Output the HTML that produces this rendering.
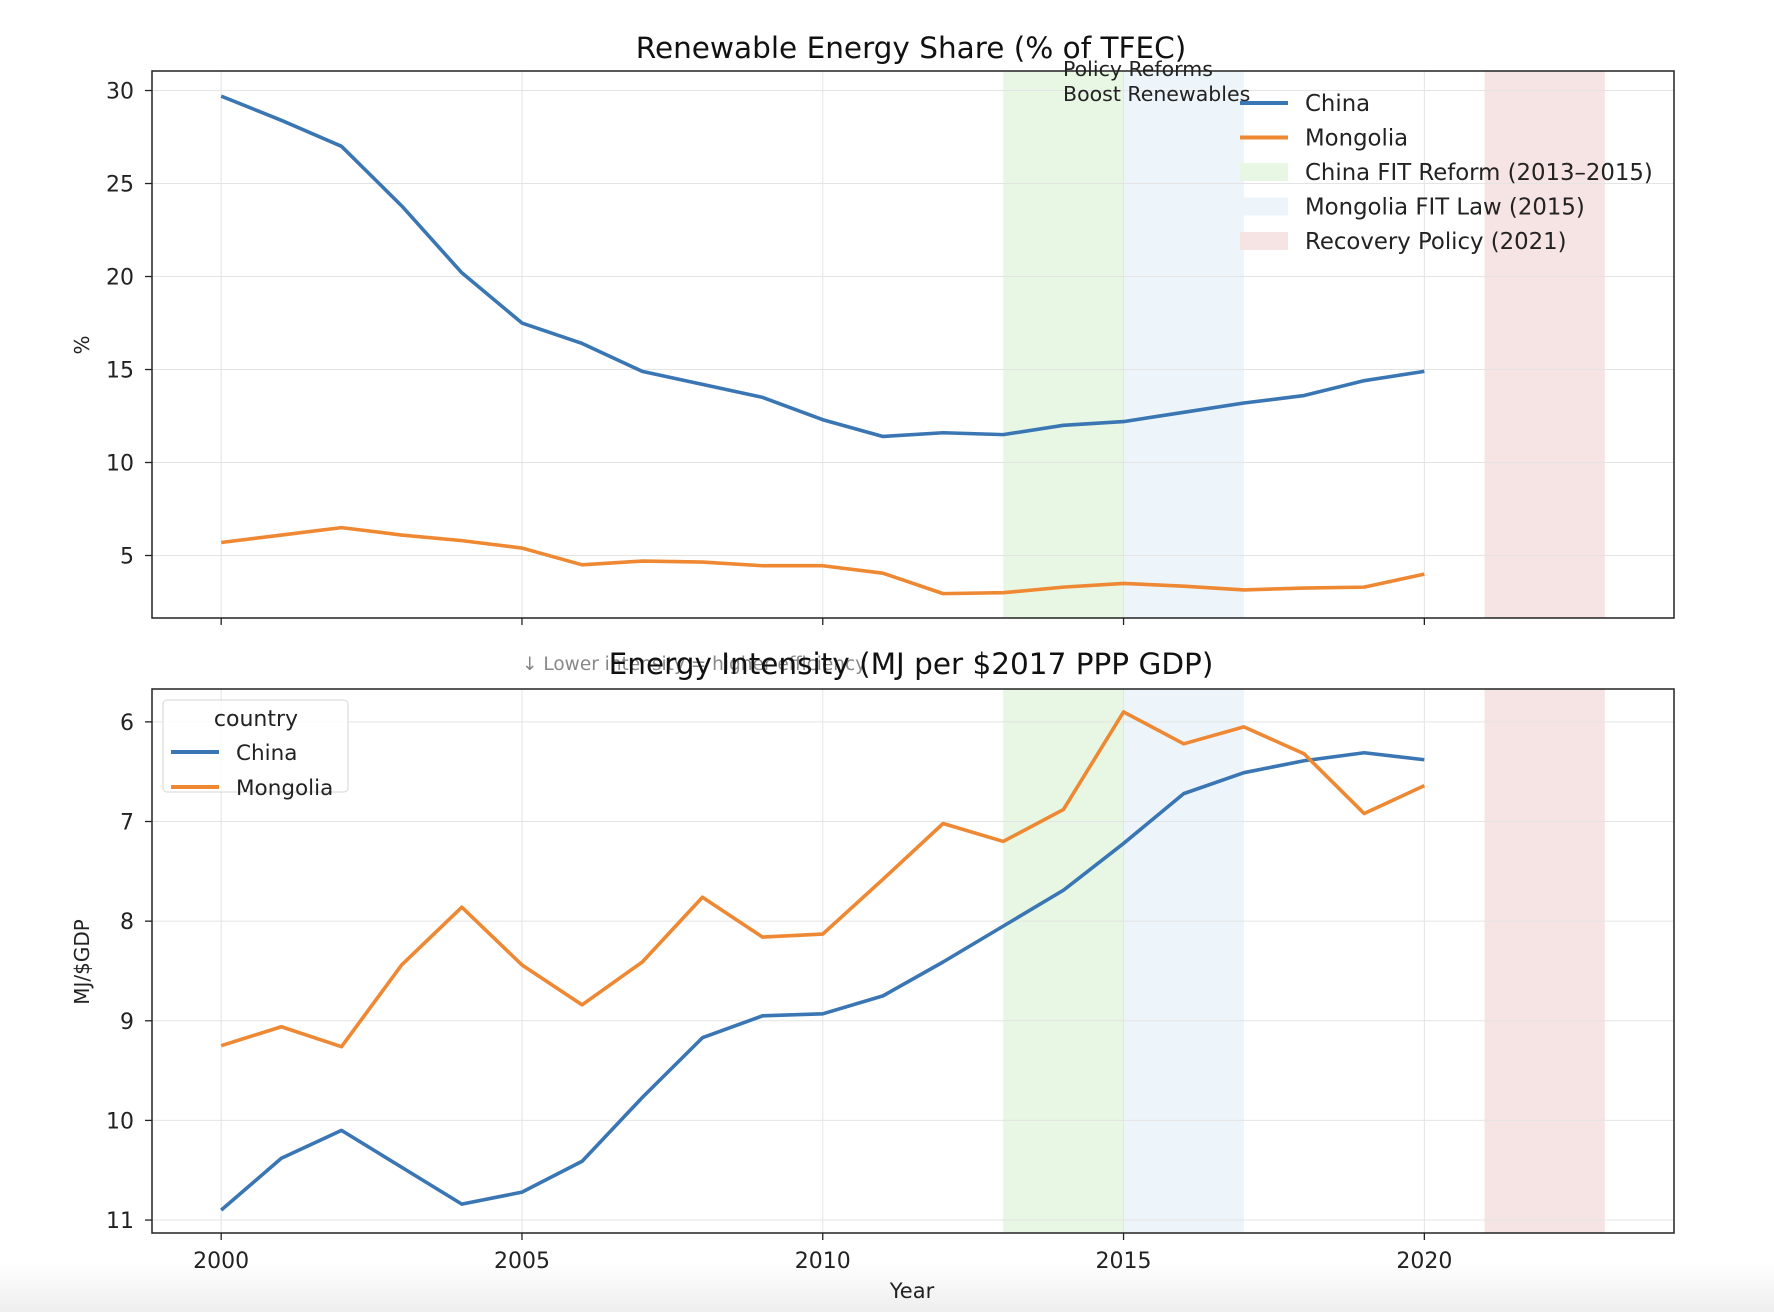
<!DOCTYPE html>
<html><head><meta charset="utf-8"><style>
html,body{margin:0;padding:0;background:#fff;}
svg{display:block;font-family:"DejaVu Sans","Liberation Sans",sans-serif;}
</style></head><body>
<svg id="chart" width="1774" height="1312" viewBox="0 0 1774 1312">
<defs><linearGradient id="bg" x1="0" y1="0" x2="0" y2="1"><stop offset="0" stop-color="#fff"/><stop offset="1" stop-color="#eeeeee"/></linearGradient></defs>
<rect x="0" y="1262" width="1774" height="50" fill="url(#bg)"/>
</svg>
<script>
const years = [2000,2001,2002,2003,2004,2005,2006,2007,2008,2009,2010,2011,2012,2013,2014,2015,2016,2017,2018,2019,2020];
const reChina = [29.7,28.4,27.0,23.8,20.2,17.5,16.4,14.9,14.2,13.5,12.3,11.4,11.6,11.5,12.0,12.2,12.7,13.2,13.6,14.4,14.9];
const reMongolia = [5.7,6.1,6.5,6.1,5.8,5.4,4.5,4.7,4.65,4.45,4.45,4.05,2.95,3.0,3.3,3.5,3.35,3.15,3.25,3.3,4.0];
const eiChina = [10.9,10.38,10.1,10.47,10.84,10.72,10.41,9.77,9.17,8.95,8.93,8.75,8.41,8.05,7.69,7.22,6.72,6.51,6.39,6.31,6.38];
const eiMongolia = [9.25,9.06,9.26,8.44,7.86,8.44,8.84,8.41,7.76,8.16,8.13,7.58,7.02,7.2,6.88,5.9,6.22,6.05,6.32,6.92,6.64];
const xTicks = [2000,2005,2010,2015,2020];
const reTicks = [5,10,15,20,25,30];
const eiTicks = [6,7,8,9,10,11];
const spans = [[2013,2015,'#e7f7e4','china-fit-span'],[2015,2017,'#edf5fa','mongolia-fit-span'],[2021,2023,'#f6e3e3','recovery-span']];

const NS='http://www.w3.org/2000/svg';
const svg=document.getElementById('chart');
function el(tag,attrs,parent){const e=document.createElementNS(NS,tag);for(const k in attrs)e.setAttribute(k,attrs[k]);(parent||svg).appendChild(e);return e;}
const L=152,R=1674,X0=1998.85,X1=2024.15;
const x=v=>L+(v-X0)/(X1-X0)*(R-L);
const C1='#3a76b3',C2='#ee8833';

function panel(top,bot,y0,y1,ticks,name,series,showXLabels){
  const y=v=>bot-(v-y0)/(y1-y0)*(bot-top);
  const g=el('g',{});
  
  
  spans.forEach(s=>{const r=el('rect',{x:x(s[0]),y:top,width:x(s[1])-x(s[0]),height:bot-top,fill:s[2]},g);
    
    });
  xTicks.forEach(t=>{const l=el('line',{x1:x(t),x2:x(t),y1:top,y2:bot,stroke:'#e4e4e4','stroke-width':1},g);
    
    
    const tk=el('line',{x1:x(t),x2:x(t),y1:bot,y2:bot+7,stroke:'#222','stroke-width':1.3},g);
    
    
    if(showXLabels){const tx=el('text',{x:x(t),y:bot+35,'text-anchor':'middle','font-size':22,fill:'#222'},g);tx.textContent=t;
      
      }
  });
  ticks.forEach(t=>{const l=el('line',{x1:L,x2:R,y1:y(t),y2:y(t),stroke:'#e4e4e4','stroke-width':1},g);
    
    
    const tk=el('line',{x1:L-7,x2:L,y1:y(t),y2:y(t),stroke:'#222','stroke-width':1.3},g);
    
    
    const tx=el('text',{x:L-18,y:y(t)+8,'text-anchor':'end','font-size':22,fill:'#222'},g);tx.textContent=t;
    
    });
  series.forEach(s=>{const p=el('polyline',{points:years.map((yr,i)=>x(yr)+','+y(s[0][i])).join(' '),fill:'none',stroke:s[1],'stroke-width':3.6,'stroke-linejoin':'round'},g);
    
    });
  const f=el('rect',{x:L,y:top,width:R-L,height:bot-top,fill:'none',stroke:'#222','stroke-width':1.5},g);
  
  
}
panel(71,618,1.64,31.05,reTicks,'renewable-share-panel',[[reChina,C1,'china-renewable-line'],[reMongolia,C2,'mongolia-renewable-line']],false);
panel(689,1233,11.13,5.67,eiTicks,'energy-intensity-panel',[[eiChina,C1,'china-intensity-line'],[eiMongolia,C2,'mongolia-intensity-line']],true);

function txt(s,a,name){const t=el('text',a);t.textContent=s;
  
  return t;}
txt('Renewable Energy Share (% of TFEC)',{x:911,y:58,'text-anchor':'middle','font-size':29.5,fill:'#111'},'top-title');
txt('↓ Lower intensity = higher efficiency',{x:522,y:670,'font-size':18.5,fill:'#888'},'intensity-note');
txt('Energy Intensity (MJ per $2017 PPP GDP)',{x:911,y:674,'text-anchor':'middle','font-size':29.5,fill:'#111'},'bottom-title');
txt('Policy Reforms',{x:1063,y:76,'font-size':20.5,fill:'#222'},'annotation-line1');
txt('Boost Renewables',{x:1063,y:101,'font-size':20.5,fill:'#222'},'annotation-line2');
txt('%',{x:0,y:0,'text-anchor':'middle','font-size':20,fill:'#222',transform:'translate(89,345) rotate(-90)'},'y-axis-title-top');
txt('MJ/$GDP',{x:0,y:0,'text-anchor':'middle','font-size':20,fill:'#222',transform:'translate(89,962) rotate(-90)'},'y-axis-title-bottom');
txt('Year',{x:912,y:1298,'text-anchor':'middle','font-size':21,fill:'#222'},'x-axis-title');

const leg=[['line',C1,'China'],['line',C2,'Mongolia'],['rect','#e7f7e4','China FIT Reform (2013–2015)'],['rect','#edf5fa','Mongolia FIT Law (2015)'],['rect','#f6e3e3','Recovery Policy (2021)']];
leg.forEach((e,i)=>{const yy=103+i*34.5;
  if(e[0]==='line'){const l=el('line',{x1:1240,x2:1288,y1:yy,y2:yy,stroke:e[1],'stroke-width':4});
    
    }
  else{const r=el('rect',{x:1240,y:yy-9,width:48,height:18,fill:e[1]});
    
    }
  txt(e[2],{x:1305,y:yy+8,'font-size':22.8,fill:'#222'},'legend-entry');
});
const lb=el('rect',{x:163,y:700,width:185,height:92,rx:4,fill:'#fff','fill-opacity':0.85,stroke:'#d6d6d6'});


txt('country',{x:256,y:726,'text-anchor':'middle','font-size':22,fill:'#222'},'legend-title');
[[C1,'China',752],[C2,'Mongolia',787]].forEach(e=>{const l=el('line',{x1:171,x2:219,y1:e[2],y2:e[2],stroke:e[0],'stroke-width':4});
  
  
  txt(e[1],{x:236,y:e[2]+8,'font-size':21.5,fill:'#222'},'legend-entry');});
</script>
</body></html>
